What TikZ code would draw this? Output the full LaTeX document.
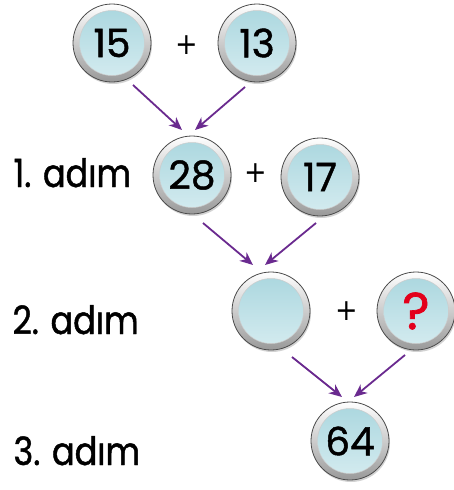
\documentclass[tikz,border=0pt]{standalone}
\usepackage{fontspec}
\setmainfont{Poppins}
\newfontfamily\plusfont{DejaVu Sans}
\usetikzlibrary{arrows.meta,shadows}
\definecolor{arrowpurple}{HTML}{6A2A8F}
\definecolor{diskblue}{HTML}{C4E4EA}
\definecolor{disktop}{HTML}{A9D6DE}
\definecolor{qred}{HTML}{E3001B}
\begin{document}
\begin{tikzpicture}[x=1pt,y=-1pt,
  ballnode/.style={circle, minimum size=78pt, inner sep=0pt,
    draw=black!70, line width=0.8pt,
    top color=white, bottom color=black!40,
    drop shadow={shadow xshift=1pt, shadow yshift=-2pt, opacity=0.35},
    path picture={
      \shade[top color=disktop, bottom color=diskblue!70!white]
        (path picture bounding box.center) circle (32.5pt);
      \draw[black!20, line width=0.5pt]
        (path picture bounding box.center) circle (32.5pt);
    },
    font=\fontsize{39}{39}\selectfont\addfontfeature{FakeBold=1.2}},
  plusnode/.style={font=\plusfont\fontsize{30}{30}\selectfont\addfontfeature{FakeStretch=0.9}},
  stepname/.style={anchor=base west,
    font=\fontsize{39}{39}\selectfont\addfontfeature{FakeBold=1.2,FakeStretch=0.86}},
  arr/.style={draw=arrowpurple, line width=1.8pt,
    -{Stealth[length=13pt,width=11pt,inset=4pt]}}]
\useasboundingbox[fill=white] (0,0) rectangle (454,490);

% step labels
\node[stepname] (s1) at (10,187) {1.\hspace{0.3em}adım};
\node[stepname] (s2) at (9,334) {2.\hspace{0.3em}adım};
\node[stepname] (s3) at (10,465) {3.\hspace{0.3em}adım};

% balls
\node[ballnode] (a) at (112,43) {15};
\node[plusnode] (p1) at (187,45) {+};
\node[ballnode] (b) at (257,43) {13};

\node[ballnode] (c) at (192,175) {28};
\node[plusnode] (p2) at (256,173) {+};
\node[ballnode] (d) at (320,177) {17};

\node[ballnode] (e) at (271,311) {};
\node[plusnode] (p3) at (347,311) {+};
\node[ballnode, font=\fontsize{52}{52}\selectfont\addfontfeature{FakeBold=1.3}\color{qred}] (f) at (416,311) {?};

\node[ballnode] (g) at (350,441) {64};

% arrows
\draw[arr] ([shift={(21,42)}]a.center) -- ([shift={(-10,-45)}]c.center);
\draw[arr] ([shift={(-12,44)}]b.center) -- ([shift={(3,-45)}]c.center);
\draw[arr] ([shift={(11,48)}]c.center) -- ([shift={(-18,-46)}]e.center);
\draw[arr] ([shift={(-4,46)}]d.center) -- ([shift={(-6,-46)}]e.center);
\draw[arr] ([shift={(21,46)}]e.center) -- ([shift={(-8,-44)}]g.center);
\draw[arr] ([shift={(-11,44)}]f.center) -- ([shift={(4,-44)}]g.center);
\end{tikzpicture}
\end{document}
